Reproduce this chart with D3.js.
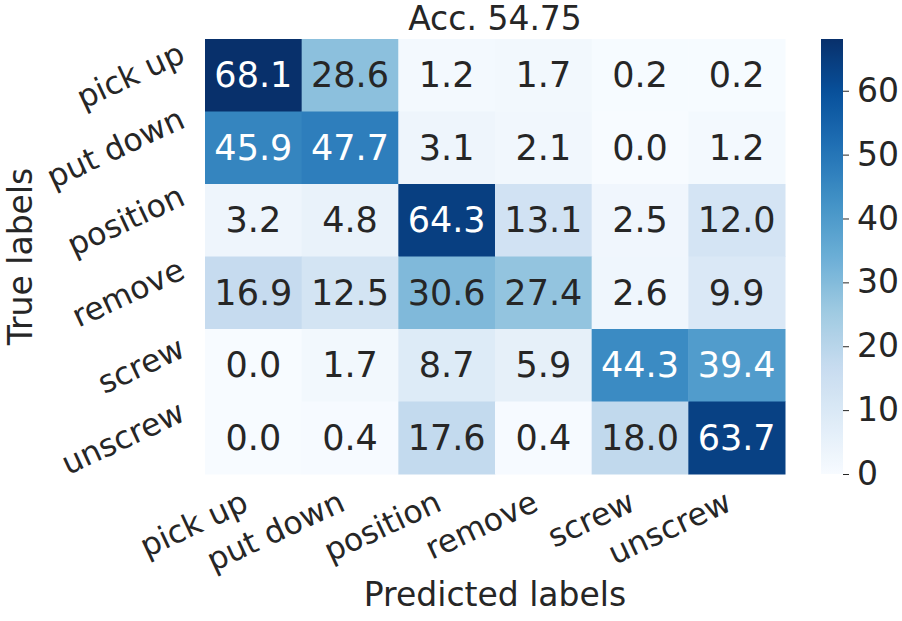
<!DOCTYPE html>
<html>
<head>
<meta charset="utf-8">
<script src="https://cdn.jsdelivr.net/npm/d3@7"></script>
<style>
  body { margin: 0; background: #fff; }
  text { font-family: "DejaVu Sans", sans-serif; fill: #262626; }
</style>
</head>
<body>
<div id="graphic"></div>
<script>
// confusion matrix values (percent), rows = true labels, cols = predicted labels
const labels = ["pick up", "put down", "position", "remove", "screw", "unscrew"];
const rowPickUp   = [68.1, 28.6, 1.2, 1.7, 0.2, 0.2];
const rowPutDown  = [45.9, 47.7, 3.1, 2.1, 0.0, 1.2];
const rowPosition = [3.2, 4.8, 64.3, 13.1, 2.5, 12.0];
const rowRemove   = [16.9, 12.5, 30.6, 27.4, 2.6, 9.9];
const rowScrew    = [0.0, 1.7, 8.7, 5.9, 44.3, 39.4];
const rowUnscrew  = [0.0, 0.4, 17.6, 0.4, 18.0, 63.7];
const colorbarTicks = [0, 10, 20, 30, 40, 50, 60];
const titleText = "Acc. 54.75";

const matrix = [rowPickUp, rowPutDown, rowPosition, rowRemove, rowScrew, rowUnscrew];
const cells = [];
matrix.forEach((row, i) => row.forEach((v, j) => cells.push({ row: labels[i], col: labels[j], value: v })));

const width = 902, height = 621;
const plot = { left: 205, right: 785, top: 39, bottom: 474 };
const cbar = { left: 821, right: 843 };
const tickFont = 31.5, cbarFont = 33, annotFont = 35, labelFont = 33;

const svg = d3.select('#graphic').append('svg')
  .attr('width', width).attr('height', height);

// matplotlib "Blues" is a linear ramp through the 9 ColorBrewer colours
const blues = ["#f7fbff", "#deebf7", "#c6dbef", "#9ecae1", "#6baed6", "#4292c6", "#2171b5", "#08519c", "#08306b"];
const vmax = d3.max(cells, d => d.value);
const color = d3.scaleLinear()
  .domain(blues.map((c, i) => i / (blues.length - 1) * vmax))
  .range(blues)
  .interpolate(d3.interpolateRgb)
  .clamp(true);

const x = d3.scaleBand().domain(labels).range([plot.left, plot.right]);
const y = d3.scaleBand().domain(labels).range([plot.top, plot.bottom]);

// same rule seaborn uses to pick the annotation colour
function textColor(c) {
  const rgb = d3.rgb(c);
  const lin = v => { v /= 255; return v <= 0.03928 ? v / 12.92 : Math.pow((v + 0.055) / 1.055, 2.4); };
  const lum = 0.2126 * lin(rgb.r) + 0.7152 * lin(rgb.g) + 0.0722 * lin(rgb.b);
  return lum > 0.408 ? "#262626" : "#ffffff";
}

svg.append('g').selectAll('rect')
  .data(cells)
  .join('rect')
  .attr('x', d => x(d.col))
  .attr('y', d => y(d.row))
  .attr('width', x.bandwidth() + 0.5)
  .attr('height', y.bandwidth() + 0.5)
  .attr('fill', d => color(d.value));

svg.append('g').selectAll('text')
  .data(cells)
  .join('text')
  .attr('x', d => x(d.col) + x.bandwidth() / 2)
  .attr('y', d => y(d.row) + y.bandwidth() / 2)
  .attr('text-anchor', 'middle')
  .attr('dominant-baseline', 'central')
  .style('font-size', annotFont + 'px')
  .style('fill', d => textColor(color(d.value)))
  .text(d => d3.format('.1f')(d.value));

// rotated tick labels, aligned on their rotated bounding box like matplotlib
const rot = 25;
const ang = rot * Math.PI / 180, cs = Math.cos(ang), sn = Math.sin(ang);
const boxH = tickFont * 1.17, baseOff = tickFont * 0.93;

const xLabels = svg.append('g').selectAll('text')
  .data(labels)
  .join('text')
  .attr('text-anchor', 'end')
  .attr('y', baseOff)
  .style('font-size', tickFont + 'px')
  .text(d => d);
xLabels.attr('transform', function (d) {
  const tx = x(d) + x.bandwidth() / 2 - boxH * sn;
  const ty = plot.bottom + 9;
  return `translate(${tx},${ty}) rotate(${-rot})`;
});

const yLabels = svg.append('g').selectAll('text')
  .data(labels)
  .join('text')
  .attr('text-anchor', 'end')
  .attr('y', baseOff)
  .style('font-size', tickFont + 'px')
  .text(d => d);
yLabels.attr('transform', function (d) {
  const w = this.getComputedTextLength();
  const tx = plot.left - 15 - boxH * sn;
  const ty = y(d) + y.bandwidth() / 2 - (w * sn + boxH * cs) / 2;
  return `translate(${tx},${ty}) rotate(${-rot})`;
});

// axis labels and title
svg.append('text')
  .attr('x', (plot.left + plot.right) / 2)
  .attr('y', 606)
  .attr('text-anchor', 'middle')
  .style('font-size', labelFont + 'px')
  .text('Predicted labels');

svg.append('text')
  .attr('transform', `translate(32,${(plot.top + plot.bottom) / 2}) rotate(-90)`)
  .attr('text-anchor', 'middle')
  .style('font-size', labelFont + 'px')
  .text('True labels');

svg.append('text')
  .attr('x', (plot.left + plot.right) / 2)
  .attr('y', 30)
  .attr('text-anchor', 'middle')
  .style('font-size', labelFont + 'px')
  .text(titleText);

// colorbar
const cScale = d3.scaleLinear().domain([0, vmax]).range([plot.bottom, plot.top]);
const grad = svg.append('defs').append('linearGradient')
  .attr('id', 'cbar-grad')
  .attr('x1', 0).attr('y1', 1).attr('x2', 0).attr('y2', 0);
grad.selectAll('stop')
  .data(d3.range(0, 1.0001, 0.02))
  .join('stop')
  .attr('offset', d => d)
  .attr('stop-color', d => color(d * vmax));

svg.append('rect')
  .attr('x', cbar.left)
  .attr('y', plot.top)
  .attr('width', cbar.right - cbar.left)
  .attr('height', plot.bottom - plot.top)
  .attr('fill', 'url(#cbar-grad)');

const cAxis = d3.axisRight(cScale)
  .tickValues(colorbarTicks)
  .tickSize(6)
  .tickPadding(8)
  .tickFormat(d3.format('d'));

const cg = svg.append('g')
  .attr('transform', `translate(${cbar.right},0)`)
  .call(cAxis);
cg.select('.domain').remove();
cg.selectAll('line').attr('stroke', '#262626');
cg.selectAll('text')
  .style('font-size', cbarFont + 'px')
  .style('font-family', '"DejaVu Sans", sans-serif')
  .attr('fill', '#262626');
</script>
</body>
</html>
